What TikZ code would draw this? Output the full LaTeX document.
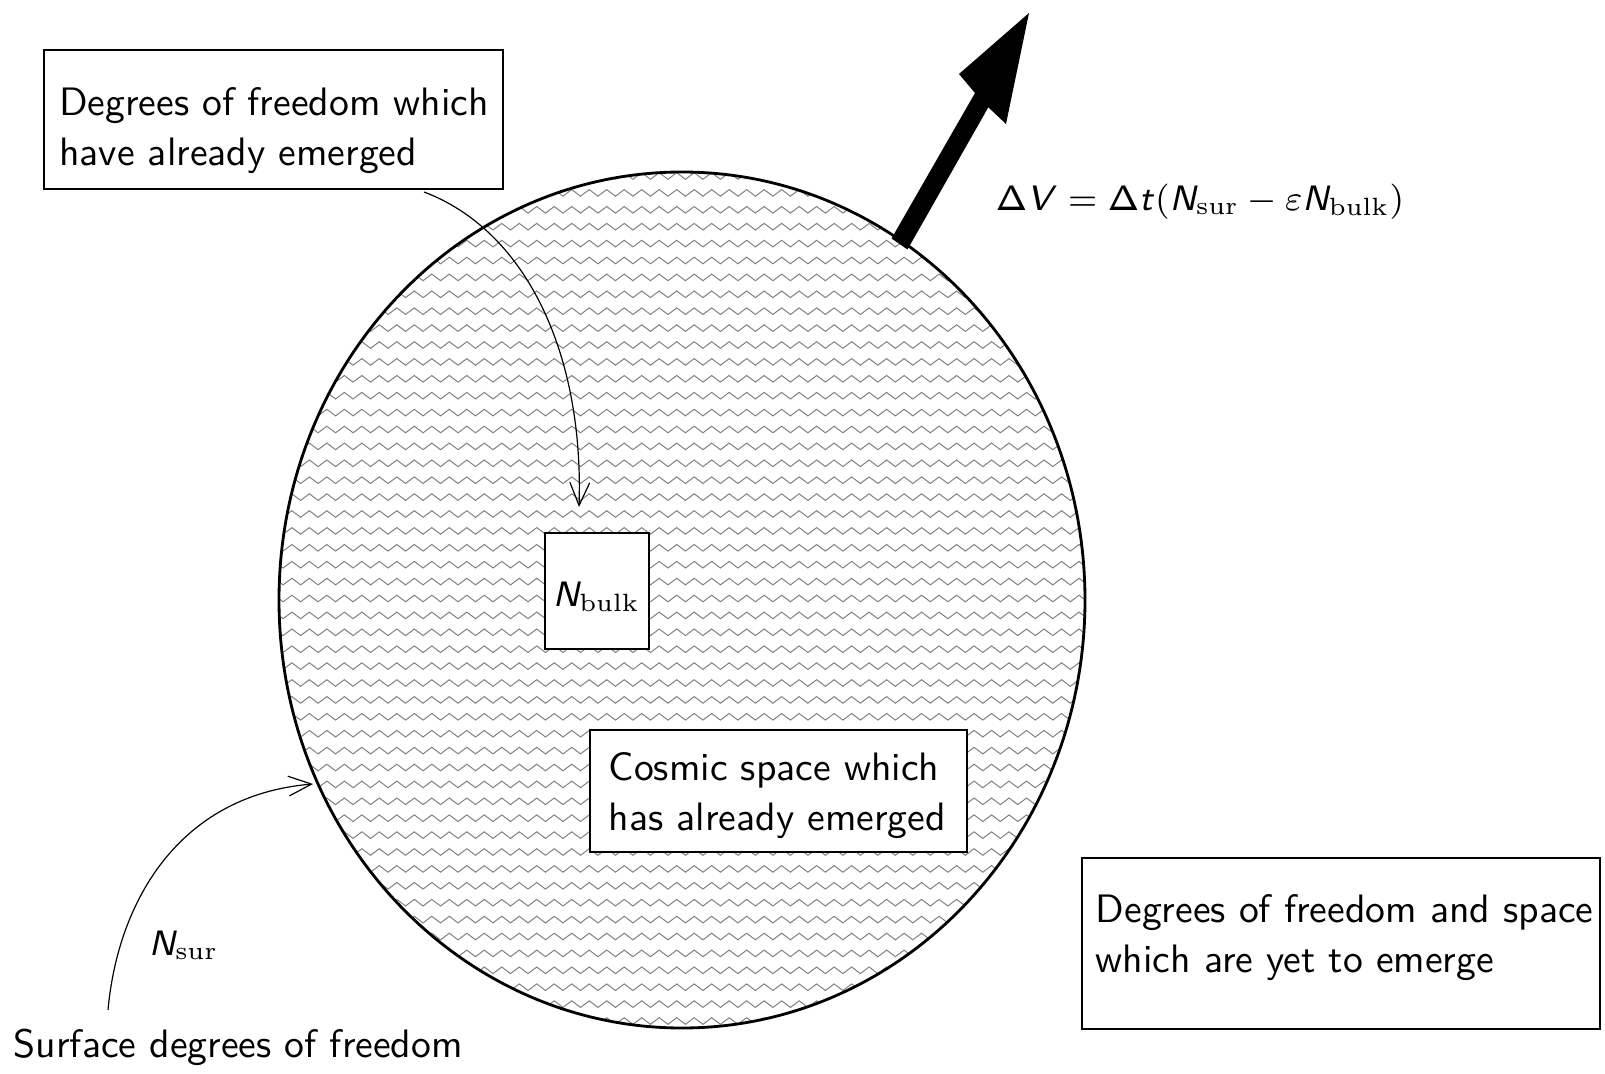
\RequirePackage{fix-cm}
\documentclass[tikz,border=0pt]{standalone}
\usetikzlibrary{arrows.meta,decorations.pathmorphing,fit,calc}
\renewcommand\familydefault{\sfdefault}
\DeclareMathAlphabet{\mathsfsl}{OT1}{cmss}{m}{sl}
\DeclareMathSizes{8.9}{8.9}{6.3}{5}
\newcommand\sv[1]{\mathsfsl{#1}}
\newcommand\mathtext{\fontsize{8.9}{11}\selectfont}
\begin{document}
\begin{tikzpicture}[x=0.2521pt,y=-0.2521pt,
  boxed/.style={draw,line width=0.40pt,inner sep=0pt,fill=white},
  txt/.style={inner sep=0pt,anchor=base west,font=\sffamily\fontsize{10}{12.75}\selectfont},
  thinarrow/.style={line width=0.30pt,-{Straight Barb[length=5.8pt,width=5pt]}},
  zig/.style={draw=black!50,line width=0.25pt,decorate,
    decoration={zigzag,segment length=4.41pt,amplitude=0.83pt}}]
\useasboundingbox (0,0) rectangle (1605,1074);

% hatched region: emerged cosmic space
\begin{scope}
  \clip (682,600) ellipse [x radius=403, y radius=428];
  \foreach \k in {0,...,51}{
    \pgfmathsetmacro\yy{176+16.9*\k}
    \draw[zig] (270,\yy) -- (1095,\yy);
  }
\end{scope}
\draw[line width=0.71pt] (682,600) ellipse [x radius=403, y radius=428];

% expansion arrow
\fill (1029,13) -- (959,74) -- (975,93) -- (891.5,238.5) -- (907.5,249.5)
  -- (988.3,107.3) -- (1006,124) -- cycle;

% boxes
\node[boxed,fit={(44,50) (503,189)}] (b1) {};
\node[boxed,fit={(545,533) (649,649)}] (nb) {};
\node[boxed,fit={(590,730) (967,852)}] (cs) {};
\node[boxed,fit={(1082,858) (1600,1029)}] (br) {};

% texts
\node[txt] (t1) at (58.5,115) {\begin{tabular}[t]{@{}l@{}}Degrees of freedom which\\have already emerged\end{tabular}};
\node[txt] (tnb) at (552,606) {\mathtext$\sv{N}_{\mathrm{bulk}}$};
\node[txt] (tcs) at (608,780) {\begin{tabular}[t]{@{}l@{}}Cosmic space which\\has already emerged\end{tabular}};
\node[txt] (tbr) at (1095,922) {\begin{tabular}[t]{@{}l@{}}Degrees of freedom and space\\which are yet to emerge\end{tabular}};
\node[txt] (tsf) at (13,1057) {Surface degrees of freedom};
\node[txt] (tns) at (148,955) {\mathtext$\sv{N}_{\mathrm{sur}}$};
\node[txt] (teq) at (995,210) {\mathtext$\mathsf{\Delta}\sv{V}=\mathsf{\Delta}\sv{t}(\sv{N}_{\mathrm{sur}}-\varepsilon\sv{N}_{\mathrm{bulk}})$};

% pointers
\coordinate (a1e) at (579,507);
\coordinate (a2s) at (108,1010);
\coordinate (a2e) at (313,784);
\draw[thinarrow,shorten <=1.6pt] ($(b1.south west)!0.814!(b1.south east)$) .. controls (525,230) and (584,352) .. (a1e);
\draw[thinarrow] (a2s) .. controls (118,900) and (180,795) .. (a2e);
\end{tikzpicture}
\end{document}
